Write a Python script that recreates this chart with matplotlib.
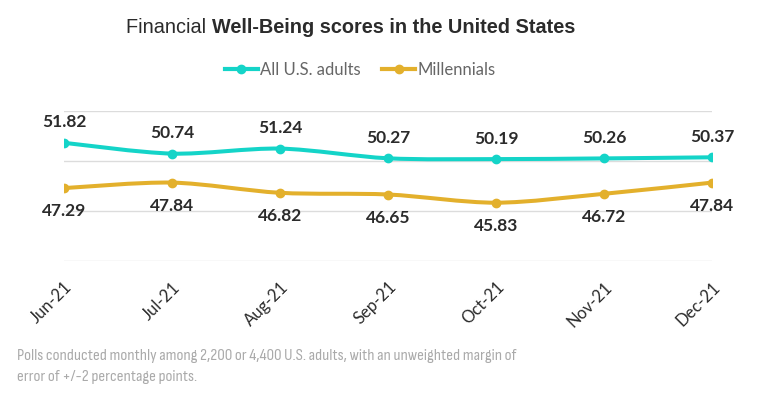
import matplotlib
matplotlib.use('Agg')

import matplotlib.pyplot as plt
import numpy as np
from matplotlib.path import Path
from matplotlib.patches import PathPatch
from matplotlib.lines import Line2D

# data
months = ['Jun-21', 'Jul-21', 'Aug-21', 'Sep-21', 'Oct-21', 'Nov-21', 'Dec-21']
all_adults = [51.82, 50.74, 51.24, 50.27, 50.19, 50.26, 50.37]
millennials = [47.29, 47.84, 46.82, 46.65, 45.83, 46.72, 47.84]

teal = '#14d4c8'
gold = '#e3b02c'
dark = '#2b2b2b'

note_lines = ['Polls conducted monthly among 2,200 or 4,400 U.S. adults, with an unweighted margin of',
              'error of +/-2 percentage points.']


def smooth_path(x, y, k=0.3):
    # cubic bezier through the points (spline-like look)
    verts = [(x[0], y[0])]
    codes = [Path.MOVETO]
    n = len(x)
    for i in range(n - 1):
        x0, y0 = x[max(i - 1, 0)], y[max(i - 1, 0)]
        x1, y1 = x[i], y[i]
        x2, y2 = x[i + 1], y[i + 1]
        x3, y3 = x[min(i + 2, n - 1)], y[min(i + 2, n - 1)]
        c1 = (x1 + (x2 - x0) * k / 2, y1 + (y2 - y0) * k / 2)
        c2 = (x2 - (x3 - x1) * k / 2, y2 - (y3 - y1) * k / 2)
        verts += [c1, c2, (x2, y2)]
        codes += [Path.CURVE4] * 3
    return Path(verts, codes)


fig = plt.figure(figsize=(7.61, 3.96), dpi=100)
ax = fig.add_axes([64 / 761, 1 - 261 / 396, (712 - 64) / 761, (261 - 111) / 396])

x = np.arange(len(months))
for vals, col in [(all_adults, teal), (millennials, gold)]:
    ax.add_patch(PathPatch(smooth_path(x, vals), facecolor='none', edgecolor=col,
                           linewidth=2.9, capstyle='round', zorder=3))
    ax.plot(x, vals, 'o', color=col, markersize=6, zorder=4)

for i in range(len(months)):
    ax.annotate('%.2f' % all_adults[i], (x[i], all_adults[i]), xytext=(0, 9),
                textcoords='offset points', ha='center', va='bottom',
                fontsize=12.5, fontweight='bold', color=dark, family='Lato')
    ax.annotate('%.2f' % millennials[i], (x[i], millennials[i]), xytext=(0, -11),
                textcoords='offset points', ha='center', va='top',
                fontsize=12.5, fontweight='bold', color=dark, family='Lato')

ax.set_xlim(0, len(months) - 1)
ax.set_ylim(40, 55)
ax.set_yticks([40, 45, 50, 55])
ax.set_yticklabels([])
ax.grid(axis='y', color='#dcdcdc', linewidth=1)
ax.set_axisbelow(True)
ax.tick_params(axis='both', length=0)
for s in ax.spines.values():
    s.set_visible(False)
ax.set_xticks(x)
ax.set_xticklabels(months, rotation=45, ha='right', va='top', rotation_mode='anchor',
                   fontsize=12, color=dark, family='Lato')
ax.tick_params(axis='x', pad=13)
ax.patch.set_alpha(0)

# title: regular + bold parts
fig.canvas.draw()
r = fig.canvas.get_renderer()
t1 = fig.text(0, 0, 'Financial ', fontsize=14.3, family='Liberation Sans', color=dark)
t2 = fig.text(0, 0, 'Well-Being scores in the United States', fontsize=14.3,
              family='Liberation Sans', fontweight='bold', color=dark)
w1 = t1.get_window_extent(r).width
w2 = t2.get_window_extent(r).width
x0 = (702 - w1 - w2) / 2 / 761
ty = 1 - 33 / 396
t1.set_position((x0, ty))
t2.set_position((x0 + w1 / 761, ty))

handles = [Line2D([], [], color=teal, linewidth=3, marker='o', markersize=6),
           Line2D([], [], color=gold, linewidth=3, marker='o', markersize=6)]
fig.legend(handles, ['All U.S. adults', 'Millennials'], loc='center',
           bbox_to_anchor=(360 / 761, 1 - 70 / 396), ncol=2, frameon=False,
           handlelength=2.0, handletextpad=0.1, columnspacing=1.3,
           prop={'family': 'Lato', 'size': 12}, labelcolor='#666666')

# footnote in a condensed face, sized so the first line is ~500 px wide
note_family = ['Sofia Sans Condensed', 'Roboto Condensed', 'Lato']
probe = fig.text(0, 0, note_lines[0], fontsize=12, family=note_family)
fs = 12 * 500 / probe.get_window_extent(r).width
probe.remove()
for i, line in enumerate(note_lines):
    fig.text(17 / 761, 1 - (356 + 21 * i) / 396, line, fontsize=fs,
             color='#aaaaaa', family=note_family, va='center')

plt.savefig('out.png', dpi=100)
